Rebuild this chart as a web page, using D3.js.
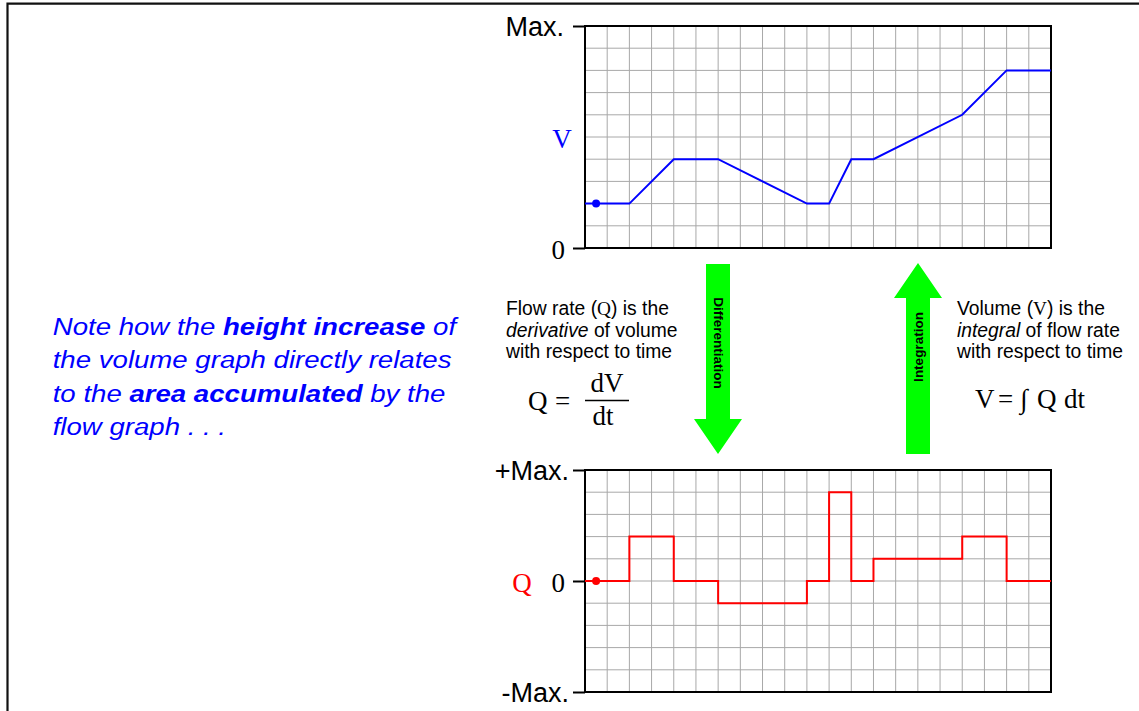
<!DOCTYPE html>
<html>
<head>
<meta charset="utf-8">
<script src="https://cdn.jsdelivr.net/npm/d3@7"></script>
<style>
  body { margin: 0; background: #fff; }
  svg { display: block; }
</style>
</head>
<body>
<svg id="chart" width="1139" height="711"></svg>
<script>
// ---- data ----
const timeV = [0, 2, 4, 6, 10, 11, 12, 13, 17, 19, 21];
const volume = [2, 2, 4, 4, 2, 2, 4, 4, 6, 8, 8];
const timeQ = [0, 2, 4, 6, 10, 11, 12, 13, 17, 19, 21];
const flow = [0, 2, 0, -1, 0, 4, 0, 1, 2, 0];      // flow held over each interval
const startTime = 0.5, startV = 2, startQ = 0;
const vTicks = [0, 10], vTickLabels = ["0", "Max."];
const qTicks = [-5, 0, 5], qTickLabels = ["-Max.", "0", "+Max."];
const vTickFonts = ["Liberation Serif", "Liberation Sans"];
const qTickFonts = ["Liberation Sans", "Liberation Serif", "Liberation Sans"];

const svg = d3.select("#chart");
const SANS = "'Liberation Sans', Arial, sans-serif";
const SERIF = "'Liberation Serif', 'Times New Roman', serif";

// page frame (top and left rules)
svg.append("path").attr("d", "M7.5,711 V3.7 H1139")
  .attr("fill", "none").attr("stroke", "#111").attr("stroke-width", 2.2);

// shared time scale
const x = d3.scaleLinear().domain([0, 21]).range([585, 1051]);
const yV = d3.scaleLinear().domain([0, 10]).range([248, 26]);
const yQ = d3.scaleLinear().domain([-5, 5]).range([692, 470]);

function panel(y, yDomain, ticks) {
  const g = svg.append("g");
  // grid
  g.append("g").selectAll("line").data(d3.range(1, 21)).join("line")
    .attr("x1", d => x(d)).attr("x2", d => x(d))
    .attr("y1", y.range()[1]).attr("y2", y.range()[0])
    .attr("stroke", "#a8a8a8").attr("stroke-width", 1);
  g.append("g").selectAll("line").data(d3.range(yDomain[0] + 1, yDomain[1])).join("line")
    .attr("x1", x(0)).attr("x2", x(21))
    .attr("y1", d => y(d)).attr("y2", d => y(d))
    .attr("stroke", "#a8a8a8").attr("stroke-width", 1);
  // frame
  g.append("rect")
    .attr("x", x(0)).attr("y", y.range()[1])
    .attr("width", x(21) - x(0)).attr("height", y.range()[0] - y.range()[1])
    .attr("fill", "none").attr("stroke", "#000").attr("stroke-width", 2);
  // ticks
  const axis = d3.axisLeft(y).tickValues(ticks).tickSize(12).tickFormat("");
  const ag = g.append("g").attr("transform", `translate(${x(0)},0)`).call(axis);
  ag.select(".domain").remove();
  ag.selectAll(".tick line").attr("stroke", "#000").attr("stroke-width", 2);
  return g;
}

panel(yV, [0, 10], vTicks);
panel(yQ, [-5, 5], qTicks);

// tick labels
const vLabelX = [565, 564], qLabelX = [569, 565, 569];
vTicks.forEach((t, i) => {
  svg.append("text").attr("x", vLabelX[i]).attr("y", yV(t) + (i === 0 ? 2 : 1))
    .attr("text-anchor", "end").attr("dominant-baseline", "central")
    .attr("font-family", vTickFonts[i] === "Liberation Serif" ? SERIF : SANS)
    .attr("font-size", 27).text(vTickLabels[i]);
});
qTicks.forEach((t, i) => {
  svg.append("text").attr("x", qLabelX[i]).attr("y", yQ(t) + (i === 1 ? 2 : 1))
    .attr("text-anchor", "end").attr("dominant-baseline", "central")
    .attr("font-family", qTickFonts[i] === "Liberation Serif" ? SERIF : SANS)
    .attr("font-size", 27).text(qTickLabels[i]);
});

// variable names
svg.append("text").attr("x", 562).attr("y", yV(5) + 2)
  .attr("text-anchor", "middle").attr("dominant-baseline", "central")
  .attr("font-family", SERIF).attr("font-size", 27).attr("fill", "#0000ff").text("V");
svg.append("text").attr("x", 522).attr("y", yQ(0) + 2)
  .attr("text-anchor", "middle").attr("dominant-baseline", "central")
  .attr("font-family", SERIF).attr("font-size", 27).attr("fill", "#ff0000").text("Q");

// volume trace
const vLine = d3.line().x(d => x(d[0])).y(d => yV(d[1]));
svg.append("path").datum(timeV.map((t, i) => [t, volume[i]]))
  .attr("d", vLine).attr("fill", "none").attr("stroke", "#0000ff").attr("stroke-width", 2);
svg.append("circle").attr("cx", x(startTime)).attr("cy", yV(startV)).attr("r", 4).attr("fill", "#0000ff");

// flow trace
const qLine = d3.line().x(d => x(d[0])).y(d => yQ(d[1])).curve(d3.curveStepAfter);
svg.append("path").datum(timeQ.map((t, i) => [t, flow[Math.min(i, flow.length - 1)]]))
  .attr("d", qLine).attr("fill", "none").attr("stroke", "#ff0000").attr("stroke-width", 2);
svg.append("circle").attr("cx", x(startTime)).attr("cy", yQ(startQ)).attr("r", 4).attr("fill", "#ff0000");

// arrows between the panels
function arrow(cx, tail, tip, label, labelY) {
  const dir = Math.sign(tip - tail);
  const shaftHalf = 12, headHalf = 24, headLen = 35;
  const base = tip - dir * headLen;
  const pts = [
    [cx - shaftHalf, tail], [cx + shaftHalf, tail], [cx + shaftHalf, base],
    [cx + headHalf, base], [cx, tip], [cx - headHalf, base], [cx - shaftHalf, base]
  ];
  svg.append("polygon").attr("points", pts.map(p => p.join(",")).join(" ")).attr("fill", "#00ff00");
  svg.append("text")
    .attr("transform", `translate(${cx},${labelY}) rotate(${dir > 0 ? 90 : -90})`)
    .attr("text-anchor", "middle").attr("dominant-baseline", "central")
    .attr("font-family", SANS).attr("font-weight", "bold").attr("font-size", 13.5)
    .text(label);
}
arrow(718, 264, 454, "Differentiation", 343);
arrow(918, 454, 263, "Integration", 347);

// explanatory text
function para(x0, y0, lh, lines, size) {
  const t = svg.append("text").attr("font-family", SANS).attr("font-size", size).attr("fill", "#000");
  lines.forEach((ln, i) => {
    ln.forEach((seg, j) => {
      const s = t.append("tspan").text(seg.t);
      if (j === 0) s.attr("x", x0).attr("y", y0 + i * lh);
      if (seg.i) s.attr("font-style", "italic");
      if (seg.serif) s.attr("font-family", SERIF);
    });
  });
  return t;
}
para(506, 315, 21.6, [
  [{ t: "Flow rate (" }, { t: "Q", serif: true }, { t: ") is the" }],
  [{ t: "derivative", i: true }, { t: " of volume" }],
  [{ t: "with respect to time" }]
], 19.3);
para(957, 315, 21.6, [
  [{ t: "Volume (" }, { t: "V", serif: true }, { t: ") is the" }],
  [{ t: "integral", i: true }, { t: " of flow rate" }],
  [{ t: "with respect to time" }]
], 19.3);

// formulas
const fSize = 27;
function formulaPiece(px, py, str, anchor) {
  svg.append("text").attr("x", px).attr("y", py).attr("text-anchor", anchor || "start")
    .attr("font-family", SERIF).attr("font-size", fSize).text(str);
}
formulaPiece(528, 410, "Q");
formulaPiece(555, 410, "=");
formulaPiece(607, 392, "dV", "middle");
svg.append("line").attr("x1", 585).attr("x2", 629).attr("y1", 400.5).attr("y2", 400.5)
  .attr("stroke", "#000").attr("stroke-width", 1.5);
formulaPiece(603, 425, "dt", "middle");

formulaPiece(975, 408, "V");
formulaPiece(998, 408, "=");
formulaPiece(1020, 408, "\u222B");
formulaPiece(1037, 408, "Q");
formulaPiece(1064, 408, "dt");

// side note
const note = svg.append("g").attr("transform", "translate(52.7,0) scale(1.15,1)");
const noteLines = [
  [{ t: "Note how the " }, { t: "height increase", b: true }, { t: " of" }],
  [{ t: "the volume graph directly relates" }],
  [{ t: "to the " }, { t: "area accumulated", b: true }, { t: " by the" }],
  [{ t: "flow graph . . ." }]
];
const nt = note.append("text").attr("font-family", SANS).attr("font-size", 24)
  .attr("font-style", "italic").attr("fill", "#0000ff").attr("xml:space", "preserve");
noteLines.forEach((ln, i) => {
  ln.forEach((seg, j) => {
    const s = nt.append("tspan").text(seg.t);
    if (j === 0) s.attr("x", 0).attr("y", 335 + i * 33.4);
    if (seg.b) s.attr("font-weight", "bold");
  });
});
</script>
</body>
</html>
